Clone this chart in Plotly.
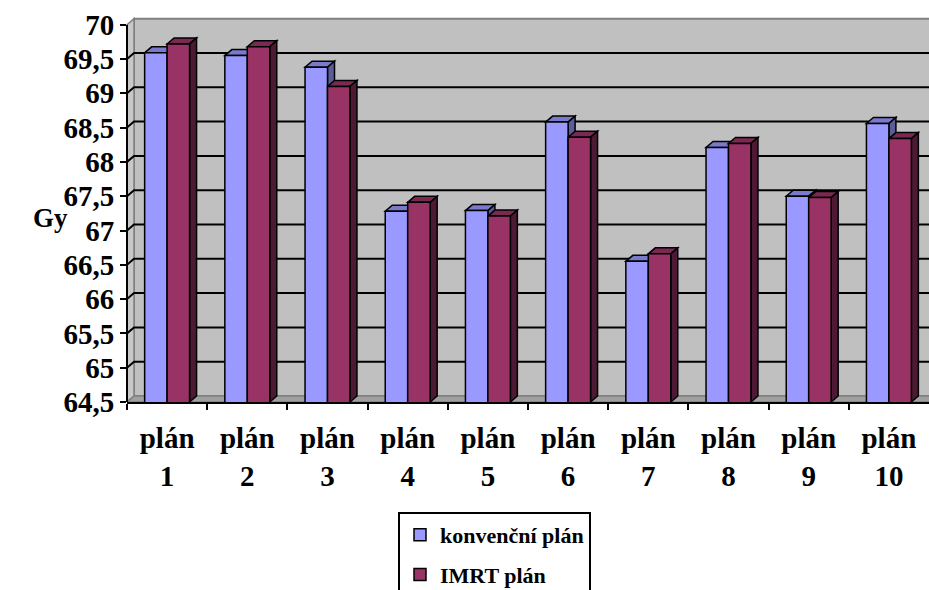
import plotly.graph_objects as go

# --- data -------------------------------------------------------------
categories = ["plán<br>1", "plán<br>2", "plán<br>3", "plán<br>4", "plán<br>5",
              "plán<br>6", "plán<br>7", "plán<br>8", "plán<br>9", "plán<br>10"]
konvencni = [69.59, 69.55, 69.38, 67.28, 67.29, 68.58, 66.55, 68.21, 67.50, 68.56]
imrt = [69.72, 69.68, 69.10, 67.41, 67.21, 68.36, 66.66, 68.27, 67.48, 68.34]
series_names = ["konvenční plán", "IMRT plán"]
y_ticks = [64.5, 65, 65.5, 66, 66.5, 67, 67.5, 68, 68.5, 69, 69.5, 70]
y_ticktext = [f"{v:g}".replace(".", ",") for v in y_ticks]

# --- style ------------------------------------------------------------
FONT = "Liberation Serif, Times New Roman, serif"
FRONT = ["#9999FF", "#993366"]
TOP = ["#7A7ACC", "#7A2952"]
SIDE = ["#5C5C99", "#4D1A33"]
WALL = "#C0C0C0"
WALL_EDGE = "#808080"
FLOOR = "#A0A0A0"

W, H = 929, 590
M_L, M_R, M_T, M_B = 127, 0, 16, 188
YMIN, YMAX_TICK = y_ticks[0], y_ticks[-1]
X0 = 0.5
X1 = len(categories) + 0.5
plot_w = W - M_L - M_R
plot_h = H - M_T - M_B
px_per_x = plot_w / (X1 - X0)
px_per_y = 68.6
YMAX = YMIN + plot_h / px_per_y

# 3D depth offset (right and up)
DX = 7 / px_per_x
DY = 6 / px_per_y
BARGAP = 0.44
BW = (1 - BARGAP) / 2
FAR = X1 + 1  # walls run past the right edge and get clipped


def bold(t):
    return f"<b>{t}</b>"


def poly(pts):
    return "M " + " L ".join(f"{x},{y}" for x, y in pts) + " Z"


shapes = []
# back wall
shapes.append(dict(type="rect", xref="x", yref="y", layer="below",
                   x0=X0 + DX, x1=FAR, y0=YMIN + DY, y1=YMAX_TICK + DY,
                   fillcolor=WALL, line=dict(color=WALL_EDGE, width=2)))
# side wall
shapes.append(dict(type="path", xref="x", yref="y", layer="below",
                   path=poly([(X0, YMIN), (X0 + DX, YMIN + DY),
                              (X0 + DX, YMAX_TICK + DY), (X0, YMAX_TICK)]),
                   fillcolor="#C8C8C8", line=dict(color=WALL_EDGE, width=1.5)))
# floor
shapes.append(dict(type="path", xref="x", yref="y", layer="below",
                   path=poly([(X0, YMIN), (X0 + DX, YMIN + DY),
                              (FAR + DX, YMIN + DY), (FAR, YMIN)]),
                   fillcolor=FLOOR, line=dict(color=WALL_EDGE, width=1.5)))
# gridlines across side wall and back wall
for v in y_ticks[1:-1]:
    shapes.append(dict(type="path", xref="x", yref="y", layer="below",
                       path=f"M {X0},{v} L {X0 + DX},{v + DY} L {FAR},{v + DY}",
                       line=dict(color="black", width=2)))

# top and side faces of the columns
for i in range(len(categories)):
    c = i + 1
    for s, vals in enumerate([konvencni, imrt]):
        h = vals[i]
        xa = c - BW + s * BW
        xb = xa + BW
        shapes.append(dict(type="path", xref="x", yref="y", layer="below",
                           path=poly([(xa, h), (xb, h), (xb + DX, h + DY), (xa + DX, h + DY)]),
                           fillcolor=TOP[s], line=dict(color="black", width=1.5)))
        shapes.append(dict(type="path", xref="x", yref="y", layer="below",
                           path=poly([(xb, YMIN), (xb, h), (xb + DX, h + DY), (xb + DX, YMIN + DY)]),
                           fillcolor=SIDE[s], line=dict(color="black", width=1.5)))

# front vertical axis line (paper coords so it is not clipped)
y_top_paper = (YMAX_TICK - YMIN) / (YMAX - YMIN)
shapes.append(dict(type="line", xref="paper", yref="paper", layer="above",
                   x0=0, x1=0, y0=0, y1=y_top_paper,
                   line=dict(color="black", width=2)))

fig = go.Figure()
x_pos = list(range(1, len(categories) + 1))
for s, vals in enumerate([konvencni, imrt]):
    fig.add_trace(go.Bar(
        x=x_pos, y=vals, name=bold(series_names[s]), legendgroup=series_names[s],
        marker=dict(color=FRONT[s], line=dict(color="black", width=1.5)),
    ))

fig.update_layout(
    width=W, height=H,
    margin=dict(l=M_L, r=M_R, t=M_T, b=M_B, autoexpand=False),
    paper_bgcolor="white", plot_bgcolor="white",
    font=dict(family=FONT, color="black", weight="bold"),
    barmode="group", bargap=BARGAP, bargroupgap=0,
    shapes=shapes,
    showlegend=True,
    legend=dict(
        x=(398 - M_L) / plot_w, y=(H - M_B - 512) / plot_h,
        xanchor="left", yanchor="top",
        bgcolor="white", bordercolor="black", borderwidth=2,
        font=dict(family=FONT, size=22, color="black", weight="bold"),
        traceorder="grouped", tracegroupgap=8, itemwidth=30,
    ),
    annotations=[dict(
        text=bold("Gy"), xref="paper", yref="paper",
        x=(50 - M_L) / plot_w, y=(H - M_B - 218) / plot_h,
        xanchor="center", yanchor="middle", showarrow=False,
        font=dict(family=FONT, size=27, color="black", weight="bold"),
    )],
)

fig.update_xaxes(
    range=[X0, X1], tickmode="array", tickvals=x_pos,
    ticktext=[bold(t) for t in categories],
    ticks="", showgrid=False, zeroline=False,
    showline=True, linecolor="black", linewidth=2,
    tickfont=dict(family=FONT, size=29, color="black", weight="bold"),
    minor=dict(tickmode="array", tickvals=[k + 0.5 for k in range(len(categories))],
               ticks="outside", ticklen=6, tickwidth=2, tickcolor="black",
               showgrid=False),
    ticklabelstandoff=9,
)
fig.update_yaxes(
    range=[YMIN, YMAX], tickmode="array", tickvals=y_ticks,
    ticktext=[bold(t) for t in y_ticktext],
    ticks="outside", ticklen=6, tickwidth=2, tickcolor="black",
    showgrid=False, zeroline=False, showline=False,
    tickfont=dict(family=FONT, size=29, color="black", weight="bold"),
)

fig.write_html("out.html")
